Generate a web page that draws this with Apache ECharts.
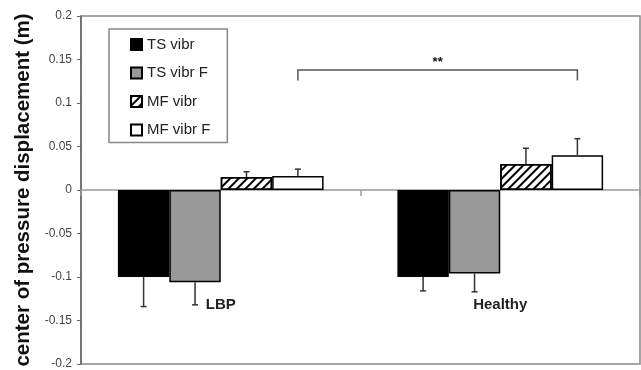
<!DOCTYPE html>
<html>
<head>
<meta charset="utf-8">
<script src="https://cdn.jsdelivr.net/npm/echarts@6/dist/echarts.min.js"></script>
<style>html,body{margin:0;padding:0;background:#fff;}#c{width:641px;height:370px;}</style>
</head>
<body>
<div id="c"></div>
<script>
// ---- data ----
const categories = ['LBP', 'Healthy'];
const seriesNames = ['TS vibr', 'TS vibr F', 'MF vibr', 'MF vibr F'];
const tsVibr   = [-0.100, -0.100];
const tsVibrF  = [-0.106, -0.096];
const mfVibr   = [0.015, 0.030];
const mfVibrF  = [0.016, 0.040];
const tsVibrErr  = [0.034, 0.016];
const tsVibrFErr = [0.026, 0.021];
const mfVibrErr  = [0.006, 0.018];
const mfVibrFErr = [0.008, 0.019];
const yTicks = [-0.2, -0.15, -0.1, -0.05, 0, 0.05, 0.1, 0.15, 0.2];
const sigLabel = '**';
const sigLevel = [0.138, 0.126]; // bracket top, bracket ends (data units)

const values = [tsVibr, tsVibrF, mfVibr, mfVibrF];
const errs = [tsVibrErr, tsVibrFErr, mfVibrErr, mfVibrFErr];
const GAP = 0.264;
const FONT = '"Liberation Sans", Arial, sans-serif';

const errData = [];
values.forEach((arr, s) => arr.forEach((v, c) => {
  const e = errs[s][c];
  errData.push([c, s, v, v < 0 ? v - e : v + e]);
}));

function barX(api, cat, s) {
  const band = api.size([1, 0])[0];
  const bw = band * (1 - GAP) / 4;
  return api.coord([cat, 0])[0] + (s - 1.5) * bw;
}

function renderErr(params, api) {
  const cat = api.value(0), s = api.value(1), v = api.value(2), e = api.value(3);
  const x = barX(api, cat, s);
  const y1 = api.coord([cat, v])[1];
  const y2 = api.coord([cat, e])[1];
  const st = { stroke: '#333', lineWidth: 1.5 };
  return { type: 'group', children: [
    { type: 'line', shape: { x1: x, y1: y1, x2: x, y2: y2 }, style: st },
    { type: 'line', shape: { x1: x - 3, y1: y2, x2: x + 3, y2: y2 }, style: st }
  ]};
}

function renderBracket(params, api) {
  const x1 = barX(api, 0, 3), x2 = barX(api, 1, 3);
  const yt = api.coord([0, sigLevel[0]])[1];
  const yb = api.coord([0, sigLevel[1]])[1];
  const st = { stroke: '#555', lineWidth: 1.5, fill: null };
  return { type: 'group', children: [
    { type: 'polyline', shape: { points: [[x1, yb], [x1, yt], [x2, yt], [x2, yb]] }, style: st },
    { type: 'text', style: { text: sigLabel, x: (x1 + x2) / 2, y: yt - 1, align: 'center', verticalAlign: 'bottom',
      font: 'bold 13px ' + FONT, fill: '#111' } }
  ]};
}

const styles = [
  { color: '#000', borderColor: '#000', borderWidth: 1.5 },
  { color: '#999', borderColor: '#000', borderWidth: 1.5 },
  { color: '#fff', borderColor: '#000', borderWidth: 1.5,
    decal: { symbol: 'rect', symbolSize: 1, color: '#000', dashArrayX: [1, 0], dashArrayY: [2, 4], rotation: -Math.PI / 4 } },
  { color: '#fff', borderColor: '#000', borderWidth: 1.5 }
];

const series = values.map((arr, i) => ({
  name: seriesNames[i], type: 'bar', data: arr, barGap: 0, barCategoryGap: (GAP * 100) + '%',
  itemStyle: styles[i], animation: false
}));
series.push({ type: 'custom', data: errData, renderItem: renderErr, encode: { x: 0, y: 2 }, z: 5, animation: false, silent: true });
series.push({ type: 'custom', data: [[0, 0]], renderItem: renderBracket, encode: { x: 0, y: 1 }, z: 5, animation: false, silent: true });

const chart = echarts.init(document.getElementById('c'), null, { renderer: 'canvas' });
chart.setOption({
  animation: false,
  grid: { left: 81, right: 1, top: 16, bottom: 6, show: true, borderColor: '#888', borderWidth: 1.5,
    containLabel: false, outerBoundsMode: 'none' },
  legend: {
    data: seriesNames, orient: 'vertical', left: 109, top: 29,
    icon: 'rect', itemWidth: 11, itemHeight: 11, itemGap: 13.5,
    padding: [8, 17, 5, 21], borderColor: '#888', borderWidth: 1.5, backgroundColor: '#fff',
    textStyle: { fontFamily: FONT, fontSize: 15, color: '#222' }
  },
  xAxis: [{
    type: 'category', data: categories,
    axisLine: { onZero: true, lineStyle: { color: '#999', width: 1.5 } },
    axisTick: { show: true, length: 6, lineStyle: { color: '#999', width: 1.5 } },
    axisLabel: { show: false },
    splitLine: { show: false }
  }, {
    type: 'category', data: categories, position: 'bottom',
    axisLine: { show: false, onZero: false }, axisTick: { show: false },
    axisLabel: { show: true, margin: -67, fontFamily: FONT, fontSize: 15, fontWeight: 'bold', color: '#222' },
    splitLine: { show: false }
  }],
  yAxis: {
    type: 'value', min: yTicks[0], max: yTicks[yTicks.length - 1], interval: 0.05,
    name: 'center of pressure displacement (m)', nameLocation: 'middle', nameGap: 47,
    nameTextStyle: { fontFamily: FONT, fontSize: 20.5, fontWeight: 'bold', color: '#111' },
    axisLine: { show: true, lineStyle: { color: '#666', width: 1.5 } },
    axisTick: { show: true, length: 4, lineStyle: { color: '#666' } },
    axisLabel: { margin: 9, fontFamily: FONT, fontSize: 12, color: '#444',
      formatter: v => String(Math.round(v * 100) / 100) },
    splitLine: { show: false }
  },
  series: series
});
</script>
</body>
</html>
